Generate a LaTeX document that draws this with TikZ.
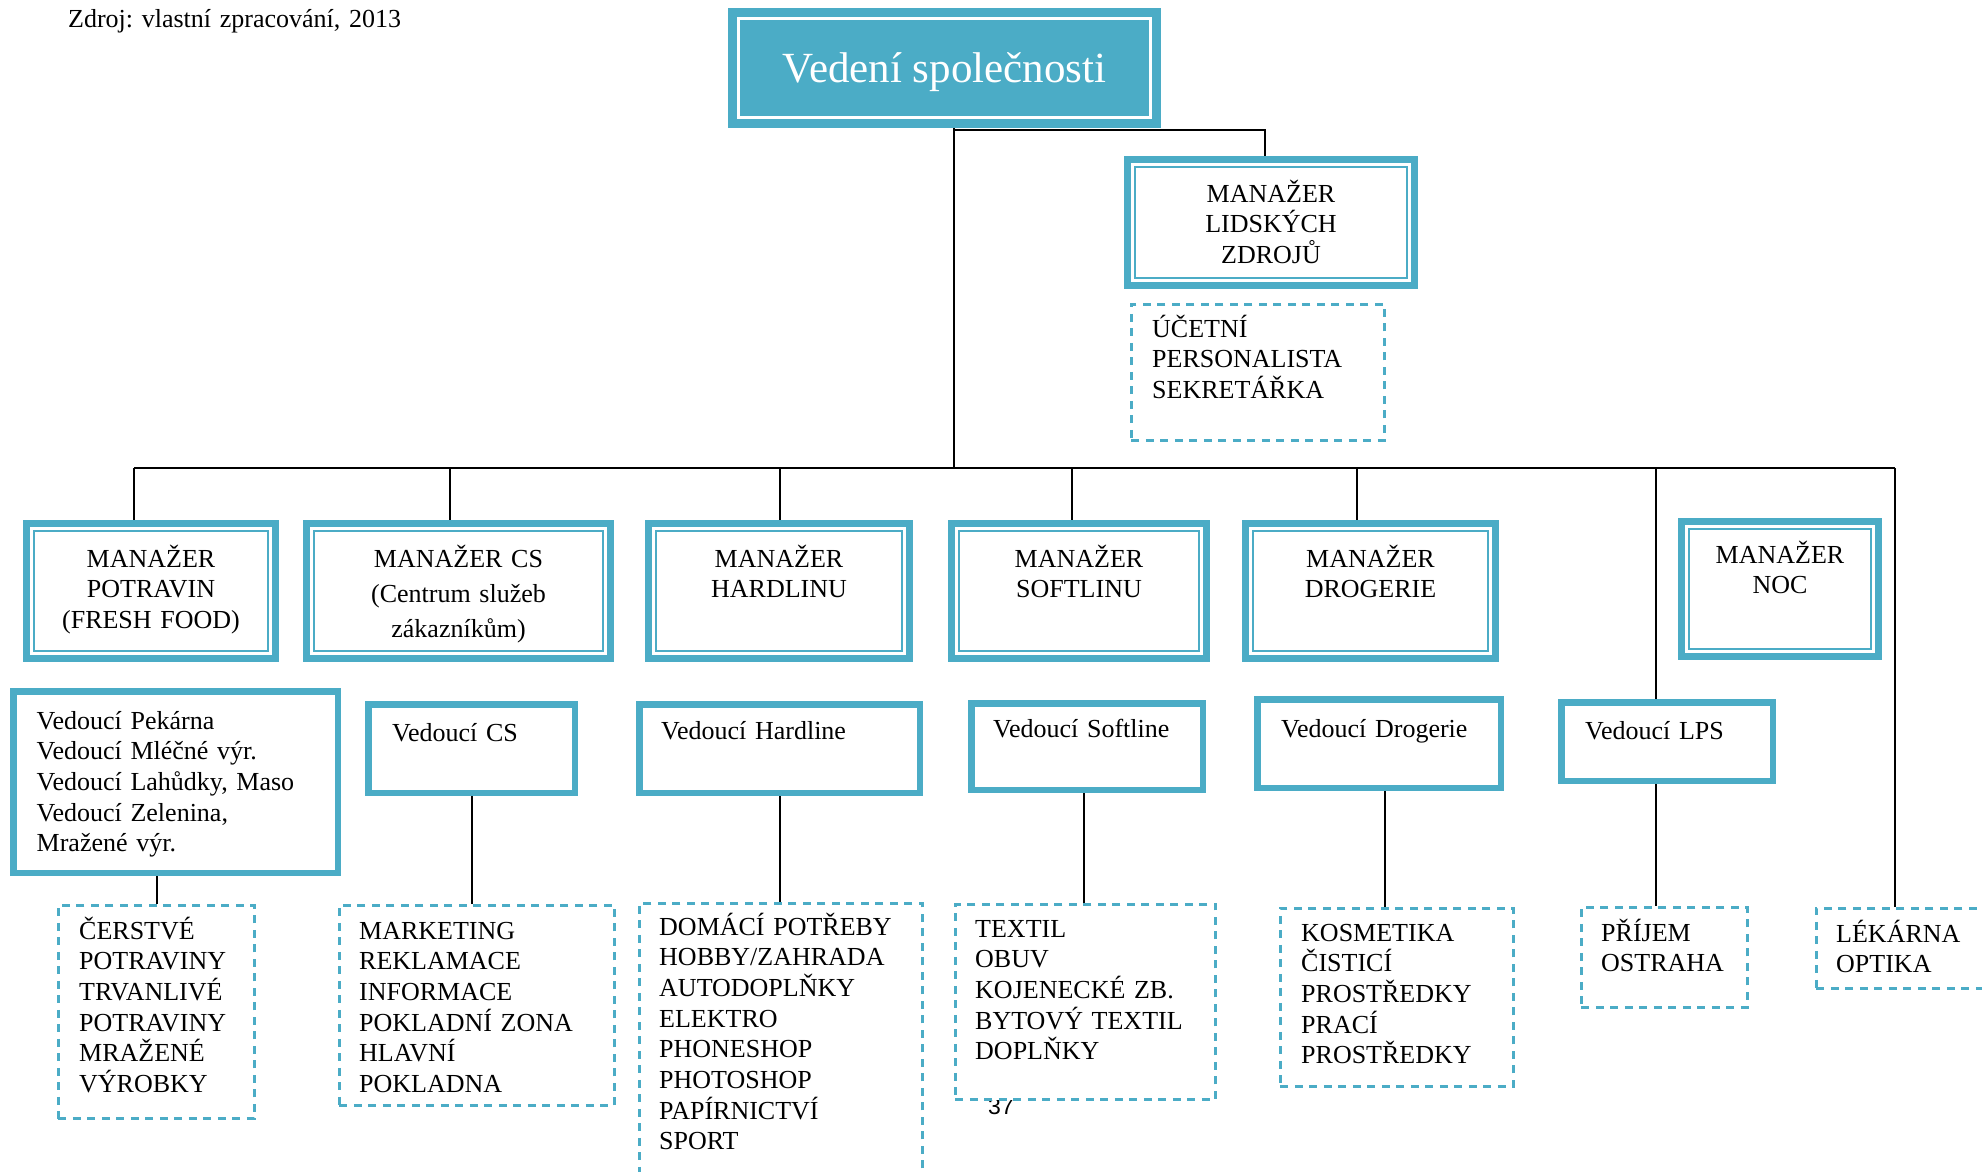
\documentclass[tikz,border=0pt]{standalone}
\usepackage{fontspec}
\setmainfont{Liberation Serif}
\newfontfamily\arialf{Liberation Sans}
\definecolor{tealc}{HTML}{4BACC6}
\tikzset{
 mgrbox/.style={draw=tealc, line width=7pt, fill=white, inner sep=0pt},
 vedbox/.style={draw=tealc, line width=6.5pt, fill=white, inner sep=0pt},
 dbox/.style={draw=tealc, line width=2.7pt, dash pattern=on 8pt off 6.5pt, fill=white, inner sep=0pt},
 conn/.style={draw=black, line width=2pt},
 ctext/.style={font=\fontsize{26}{30.7}\selectfont, inner sep=0pt, text width=#1, align=center, anchor=base},
 ctext/.default=280pt,
 ltext/.style={font=\fontsize{26}{30.7}\selectfont, inner sep=0pt, text width=#1, align=left, anchor=base west},
 ltext/.default=380pt,
}
\newcommand\mgrB[5]{%
  \node[mgrbox, minimum width={#4-#2-7}, minimum height={#5-#3-7}] (#1) at ({(#2+#4)/2},{(#3+#5)/2}) {};
  \draw[tealc, line width=2pt] ([shift={(11,11)}]#1.north west) rectangle ([shift={(-11,-11)}]#1.south east);
}
\newcommand\vedB[5]{%
  \node[vedbox, minimum width={#4-#2-6.5}, minimum height={#5-#3-6.5}] (#1) at ({(#2+#4)/2},{(#3+#5)/2}) {};
}
\newcommand\dashB[5]{%
  \node[dbox, minimum width={#4-#2-2.7}, minimum height={#5-#3-2.7}] (#1) at ({(#2+#4)/2},{(#3+#5)/2}) {};
}
\begin{document}
\frenchspacing
\begin{tikzpicture}[x=1pt,y=-1pt]
\useasboundingbox (0,0) rectangle (1982,1172);
\fill[white] (0,0) rectangle (1982,1172);
\clip (0,0) rectangle (1982,1172);

% source note
\node[ltext=450pt] (src) at (68,28) {Zdroj: vlastní zpracování, 2013};

% top management
\node[fill=tealc, minimum width=433, minimum height=120, inner sep=0pt] (ved) at (944.5,68) {};
\draw[white, line width=3pt] ([shift={(10.5,10.5)}]ved.north west) rectangle ([shift={(-10.5,-10.5)}]ved.south east);
\node[font=\fontsize{43}{50}\selectfont, text=white, anchor=base, inner sep=0pt] (tved) at (944.5,82) {Vedení společnosti};

% HR
\mgrB{hr}{1124}{156}{1418}{289}
\node[ctext] (thr) at (1271,202) {MANAŽER\\LIDSKÝCH\\ZDROJŮ};
\dashB{uce}{1130}{303}{1386}{442}
\node[ltext] (tuce) at (1152,337) {ÚČETNÍ\\PERSONALISTA\\SEKRETÁŘKA};

% managers
\mgrB{potr}{23}{520}{279}{662}
\node[ctext] (tpotr) at (151,567) {MANAŽER\\POTRAVIN\\(FRESH FOOD)};
\mgrB{cs}{303}{520}{614}{662}
\node[ctext, font=\fontsize{26}{35}\selectfont] (tcs) at (458.5,567) {MANAŽER CS\\(Centrum služeb\\zákazníkům)};
\mgrB{hard}{645}{520}{913}{662}
\node[ctext] (thard) at (779,567) {MANAŽER\\HARDLINU};
\mgrB{soft}{948}{520}{1210}{662}
\node[ctext] (tsoft) at (1079,567) {MANAŽER\\SOFTLINU};
\mgrB{drog}{1242}{520}{1499}{662}
\node[ctext] (tdrog) at (1370.5,567) {MANAŽER\\DROGERIE};
\mgrB{noc}{1678}{518}{1882}{660}
\node[ctext] (tnoc) at (1780,563) {MANAŽER\\NOC};

% team leaders
\vedB{pek}{10}{688}{341}{876}
\node[ltext] (tpek) at (36.5,729) {Vedoucí Pekárna\\Vedoucí Mléčné výr.\\Vedoucí Lahůdky, Maso\\Vedoucí Zelenina,\\Mražené výr.};
\vedB{vcs}{365}{701}{578}{796}
\node[ltext] (tvcs) at (392,741) {Vedoucí CS};
\vedB{vhard}{636}{701}{923}{796}
\node[ltext] (tvhard) at (661,739) {Vedoucí Hardline};
\vedB{vsoft}{968}{700}{1206}{793}
\node[ltext] (tvsoft) at (993,737) {Vedoucí Softline};
\vedB{vdrog}{1254}{696}{1504}{791}
\node[ltext] (tvdrog) at (1281,737) {Vedoucí Drogerie};
\vedB{vlps}{1558}{699}{1776}{784}
\node[ltext] (tvlps) at (1585,739) {Vedoucí LPS};

% departments
\dashB{cer}{57}{904}{256}{1120}
\node[ltext] (tcer) at (79,939) {ČERSTVÉ\\POTRAVINY\\TRVANLIVÉ\\POTRAVINY\\MRAŽENÉ\\VÝROBKY};
\dashB{mkt}{338}{904}{616}{1107}
\node[ltext] (tmkt) at (359,939) {MARKETING\\REKLAMACE\\INFORMACE\\POKLADNÍ ZONA\\HLAVNÍ\\POKLADNA};
\dashB{dom}{638}{902}{924}{1220}
\node[ltext] (tdom) at (659,935) {DOMÁCÍ POTŘEBY\\HOBBY/ZAHRADA\\AUTODOPLŇKY\\ELEKTRO\\PHONESHOP\\PHOTOSHOP\\PAPÍRNICTVÍ\\SPORT};
\node[font=\arialf\fontsize{23}{27}\selectfont, anchor=base, inner sep=0pt] (pg) at (1001,1114) {37};
\dashB{tex}{954}{903}{1217}{1101}
\node[ltext] (ttex) at (975,937) {TEXTIL\\OBUV\\KOJENECKÉ ZB.\\BYTOVÝ TEXTIL\\DOPLŇKY};
\dashB{kos}{1279}{907}{1515}{1088}
\node[ltext] (tkos) at (1301,941) {KOSMETIKA\\ČISTICÍ\\PROSTŘEDKY\\PRACÍ\\PROSTŘEDKY};
\dashB{pri}{1580}{906}{1749}{1009}
\node[ltext] (tpri) at (1601,941) {PŘÍJEM\\OSTRAHA};
\dashB{lek}{1815}{907}{2010}{990}
\node[ltext] (tlek) at (1836,942) {LÉKÁRNA\\OPTIKA};

% connectors
\coordinate (b1) at (134,468);
\coordinate (b2) at (450,468);
\coordinate (b3) at (780,468);
\coordinate (tr) at (954,468);
\coordinate (b4) at (1072,468);
\coordinate (b5) at (1357,468);
\coordinate (b6) at (1656,468);
\coordinate (b7) at (1895,468);
\coordinate (hj) at (1265,130);

\draw[conn] (tr |- ved.south) -- (tr);
\draw[conn] (tr |- hj) -- (hj) -- (hj |- hr.north);
\draw[conn] (b1) -- (b7);
\draw[conn] (b1) -- (b1 |- potr.north);
\draw[conn] (b2) -- (b2 |- cs.north);
\draw[conn] (b3) -- (b3 |- hard.north);
\draw[conn] (b4) -- (b4 |- soft.north);
\draw[conn] (b5) -- (b5 |- drog.north);
\draw[conn] (b6) -- (b6 |- vlps.north);
\draw[conn] (b7) -- (b7 |- lek.north);

\draw[conn] (cer.north |- pek.south) -- (cer.north);
\draw[conn] (vcs.south) -- (vcs.south |- mkt.north);
\draw[conn] (vhard.south) -- (vhard.south |- dom.north);
\draw[conn] ([xshift=-3pt]vsoft.south) -- ([xshift=-3pt]vsoft.south |- tex.north);
\draw[conn] ([xshift=6pt]vdrog.south) -- ([xshift=6pt]vdrog.south |- kos.north);
\draw[conn] (b6 |- vlps.south) -- (b6 |- pri.north);
\end{tikzpicture}
\end{document}
